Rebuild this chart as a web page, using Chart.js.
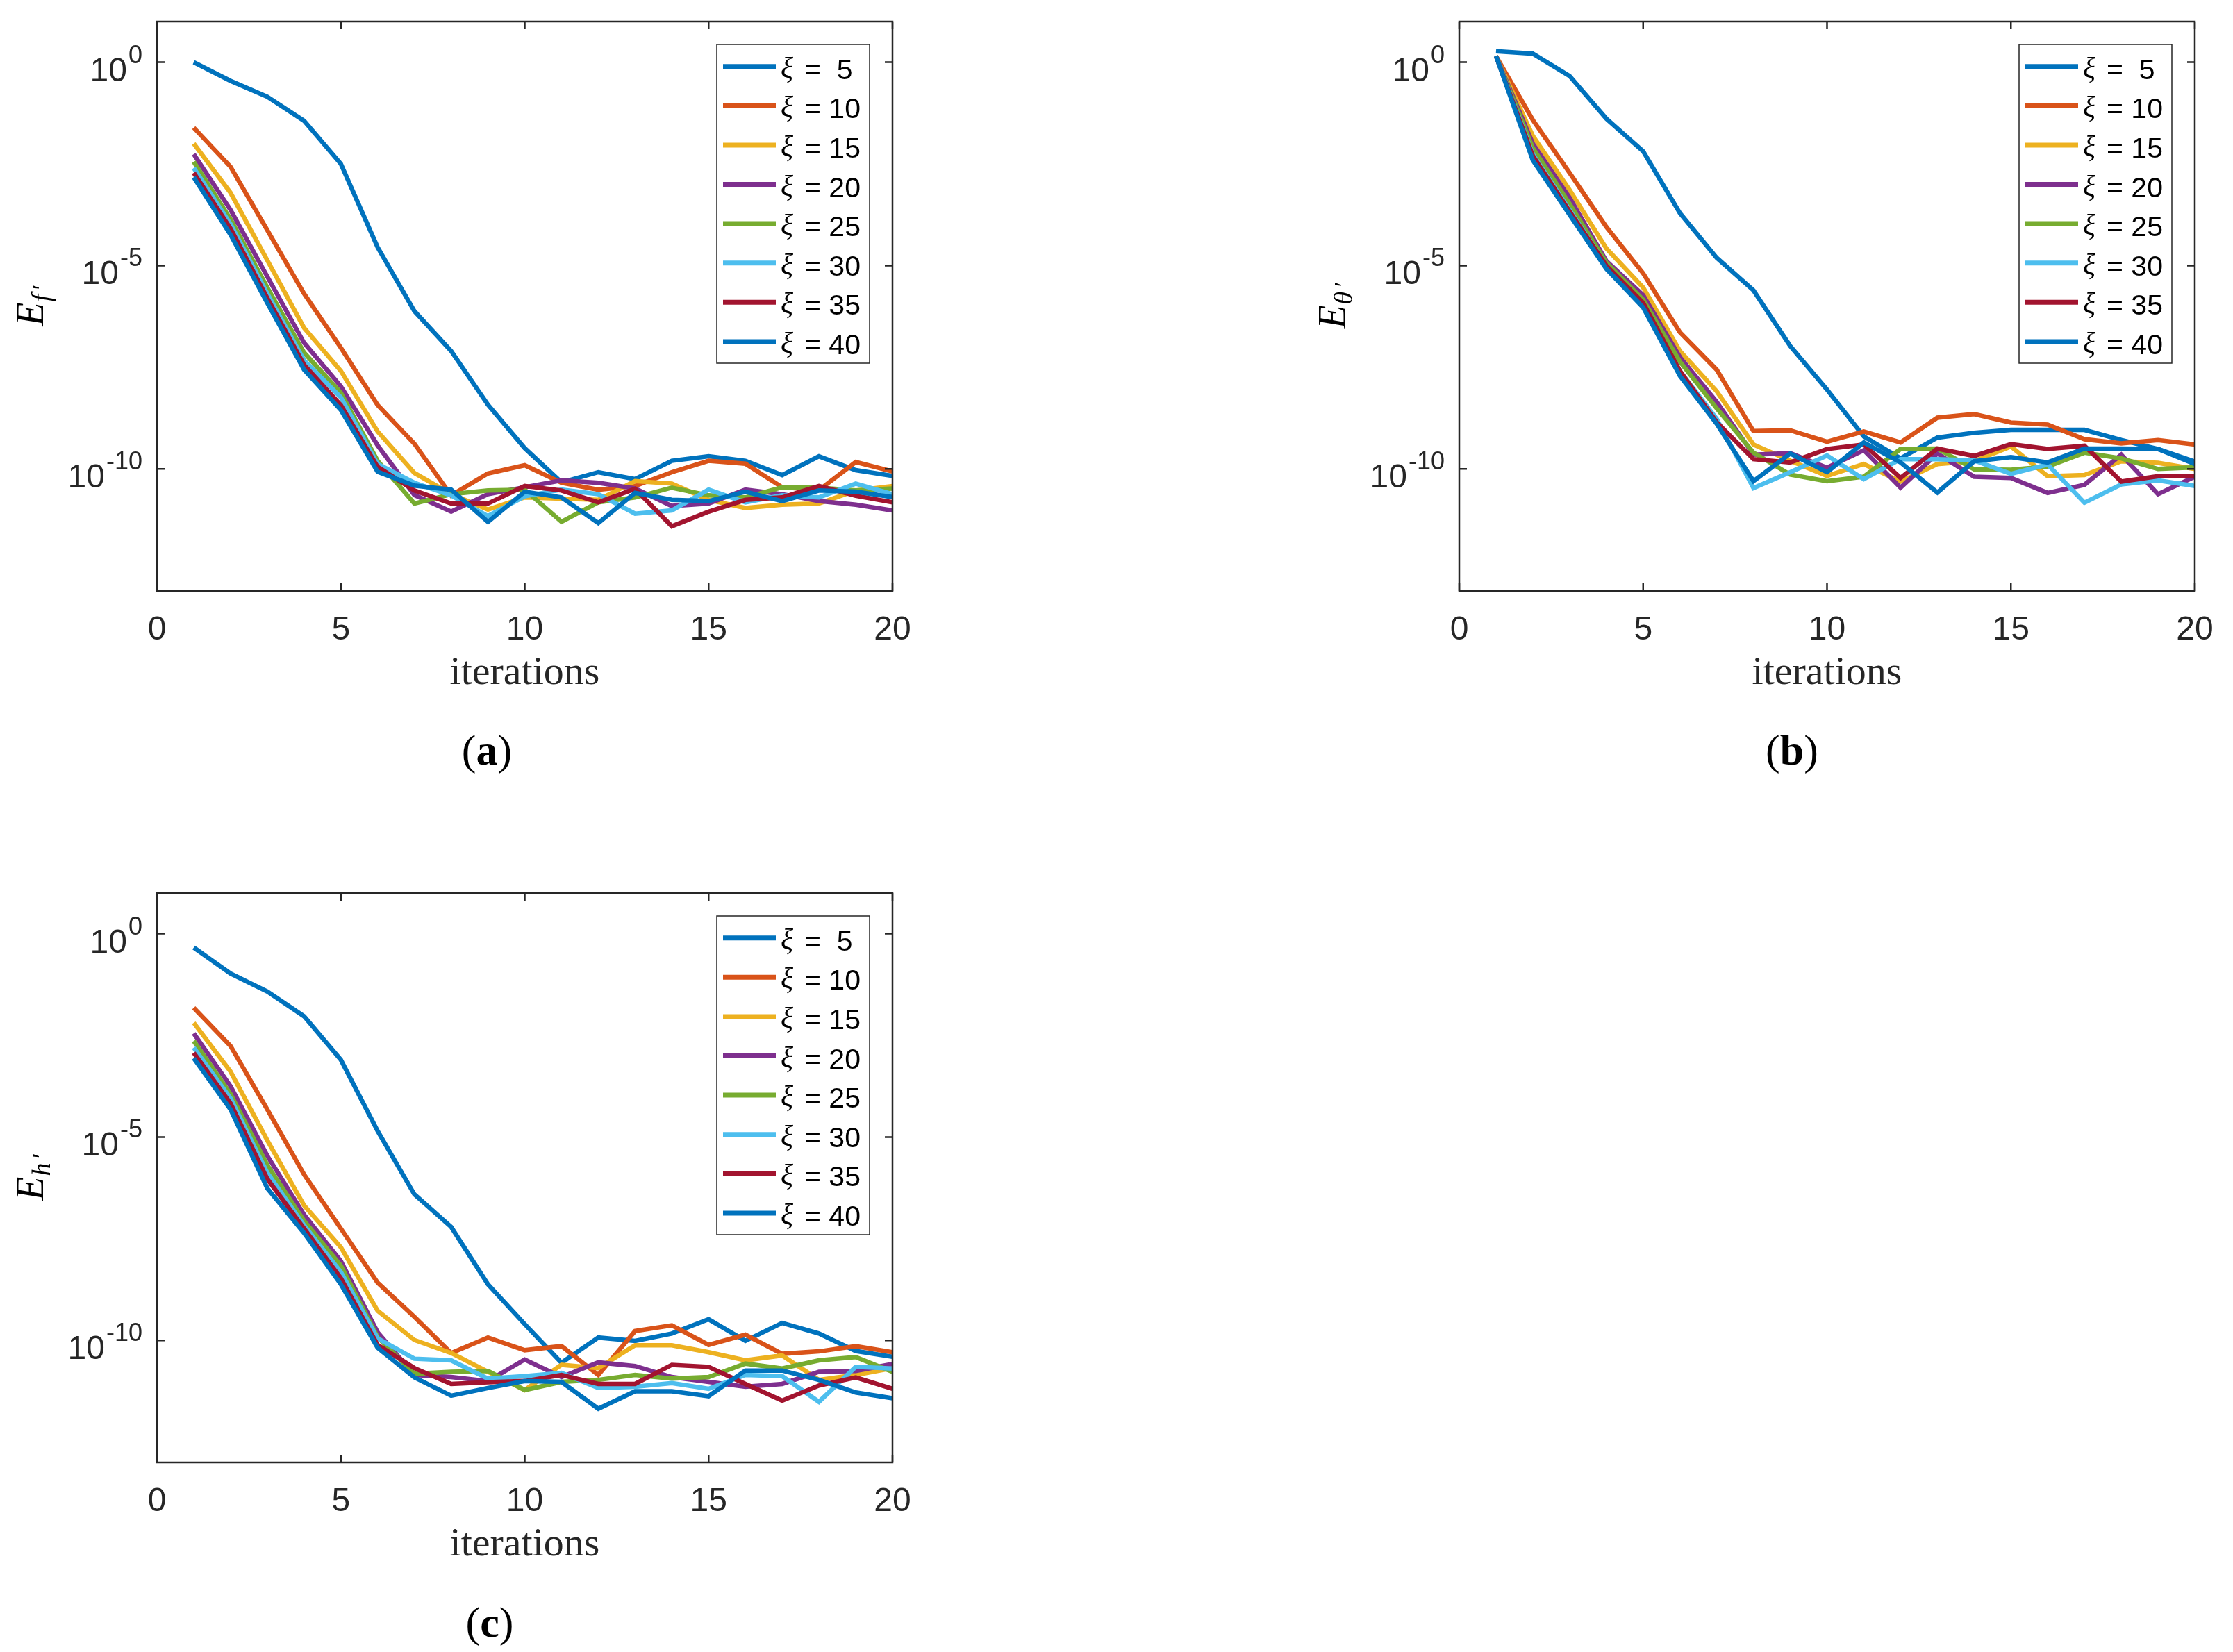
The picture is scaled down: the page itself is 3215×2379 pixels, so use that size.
<!DOCTYPE html>
<html>
<head>
<meta charset="utf-8">
<script src="https://cdn.jsdelivr.net/npm/chart.js@4.4.0/dist/chart.umd.min.js"></script>
<style>
  body { margin: 0; background: #fff; width: 3215px; height: 2379px; position: relative; overflow: hidden; }
  canvas { position: absolute; }
  .cap { position: absolute; width: 200px; text-align: center; font-family: 'Liberation Serif', 'Times New Roman', serif; font-size: 62px; line-height: 62px; color: #000; }
</style>
</head>
<body>
<canvas id="chartA" width="1340" height="1000" style="left:0px;top:0px"></canvas>
<canvas id="chartB" width="1340" height="1000" style="left:1875px;top:0px"></canvas>
<canvas id="chartC" width="1340" height="1000" style="left:0px;top:1255px"></canvas>
<div class="cap" style="left:601px;top:1049px">(<b>a</b>)</div>
<div class="cap" style="left:2480px;top:1049px">(<b>b</b>)</div>
<div class="cap" style="left:605px;top:2305px">(<b>c</b>)</div>
<script>
// iterations on the x axis
const iterations = [1, 2, 3, 4, 5, 6, 7, 8, 9, 10, 11, 12, 13, 14, 15, 16, 17, 18, 19, 20];
const xTickValues = [0, 5, 10, 15, 20];
const yTickExps = [0, -5, -10];
const legendLabels = ['ξ =  5', 'ξ = 10', 'ξ = 15', 'ξ = 20', 'ξ = 25', 'ξ = 30', 'ξ = 35', 'ξ = 40'];
const lineColors = ['#0072BD', '#D95319', '#EDB120', '#7E2F8E', '#77AC30', '#4DBEEE', '#A2142F', '#0072BD'];

// (a) E_f' : log10 of the error, per xi
const fXi5  = [0, -0.46, -0.85, -1.44, -2.5, -4.55, -6.12, -7.1, -8.42, -9.49, -10.33, -10.08, -10.25, -9.8, -9.69, -9.8, -10.15, -9.69, -10.03, -10.17];
const fXi10 = [-1.61, -2.57, -4.13, -5.69, -7.02, -8.43, -9.38, -10.65, -10.11, -9.91, -10.34, -10.51, -10.42, -10.08, -9.8, -9.87, -10.45, -10.52, -9.83, -10.06];
const fXi15 = [-2.0, -3.21, -4.87, -6.53, -7.59, -9.08, -10.1, -10.62, -11.0, -10.7, -10.73, -10.76, -10.3, -10.36, -10.76, -10.96, -10.88, -10.85, -10.53, -10.42];
const fXi20 = [-2.26, -3.63, -5.27, -6.9, -7.97, -9.42, -10.64, -11.05, -10.62, -10.45, -10.28, -10.34, -10.48, -10.91, -10.85, -10.51, -10.62, -10.79, -10.88, -11.02];
const fXi25 = [-2.45, -3.86, -5.54, -7.14, -8.13, -9.8, -10.85, -10.62, -10.53, -10.51, -11.3, -10.82, -10.7, -10.46, -10.65, -10.7, -10.45, -10.46, -10.53, -10.48];
const fXi30 = [-2.6, -3.98, -5.69, -7.33, -8.24, -9.88, -10.34, -10.65, -11.16, -10.67, -10.51, -10.62, -11.1, -11.02, -10.51, -10.82, -10.65, -10.7, -10.36, -10.62];
const fXi35 = [-2.72, -4.09, -5.8, -7.44, -8.43, -9.95, -10.53, -10.85, -10.85, -10.42, -10.53, -10.82, -10.49, -11.41, -11.05, -10.76, -10.7, -10.42, -10.66, -10.82];
const fXi40 = [-2.83, -4.24, -5.92, -7.56, -8.55, -10.07, -10.41, -10.51, -11.3, -10.56, -10.7, -11.33, -10.59, -10.76, -10.79, -10.56, -10.79, -10.53, -10.56, -10.69];

// (b) E_theta'
const tXi5  = [0.27, 0.21, -0.34, -1.39, -2.19, -3.71, -4.81, -5.61, -6.98, -8.05, -9.2, -9.74, -9.23, -9.11, -9.04, -9.04, -9.04, -9.29, -9.51, -9.82];
const tXi10 = [0.15, -1.42, -2.72, -4.05, -5.19, -6.64, -7.56, -9.07, -9.05, -9.33, -9.08, -9.35, -8.74, -8.65, -8.86, -8.91, -9.27, -9.37, -9.29, -9.4];
const tXi15 = [0.15, -1.81, -3.14, -4.58, -5.54, -7.1, -8.09, -9.4, -9.8, -10.17, -9.88, -10.31, -9.88, -9.81, -9.45, -10.18, -10.15, -9.81, -9.85, -10.0];
const tXi20 = [0.15, -2.0, -3.33, -4.89, -5.73, -7.25, -8.35, -9.65, -9.61, -9.97, -9.54, -10.46, -9.62, -10.19, -10.22, -10.59, -10.39, -9.65, -10.62, -10.19];
const tXi25 = [0.15, -2.11, -3.48, -4.93, -5.84, -7.36, -8.51, -9.6, -10.14, -10.3, -10.19, -9.51, -9.5, -10.01, -10.02, -9.94, -9.6, -9.74, -10.0, -9.96];
const tXi30 = [0.15, -2.26, -3.63, -5.0, -5.96, -7.59, -8.77, -10.47, -10.08, -9.67, -10.25, -9.76, -9.76, -9.79, -10.12, -9.89, -10.83, -10.38, -10.28, -10.42];
const tXi35 = [0.15, -2.3, -3.67, -5.0, -5.92, -7.59, -8.85, -9.76, -9.84, -9.51, -9.4, -10.22, -9.5, -9.68, -9.39, -9.51, -9.43, -10.31, -10.18, -10.17];
const tXi40 = [0.15, -2.41, -3.75, -5.08, -6.03, -7.71, -8.89, -10.3, -9.62, -10.08, -9.35, -9.84, -10.58, -9.81, -9.71, -9.84, -9.5, -9.5, -9.51, -9.88];

// (c) E_h'
const hXi5  = [-0.34, -0.98, -1.42, -2.03, -3.1, -4.85, -6.41, -7.21, -8.62, -9.6, -10.55, -9.93, -10.01, -9.83, -9.48, -10.01, -9.57, -9.83, -10.26, -10.4];
const hXi10 = [-1.82, -2.76, -4.32, -5.92, -7.25, -8.58, -9.42, -10.31, -9.93, -10.24, -10.14, -10.85, -9.77, -9.63, -10.11, -9.86, -10.33, -10.27, -10.14, -10.29];
const hXi15 = [-2.19, -3.39, -5.08, -6.68, -7.71, -9.27, -9.99, -10.31, -10.77, -11.22, -10.6, -10.68, -10.12, -10.12, -10.29, -10.49, -10.37, -10.97, -10.85, -10.68];
const hXi20 = [-2.45, -3.75, -5.46, -6.91, -8.05, -9.8, -10.85, -10.9, -11.0, -10.47, -10.9, -10.54, -10.63, -10.9, -11.02, -11.14, -11.07, -10.77, -10.75, -10.58];
const hXi25 = [-2.64, -3.94, -5.69, -7.06, -8.16, -9.92, -10.82, -10.77, -10.75, -11.22, -11.02, -10.97, -10.85, -10.94, -10.9, -10.57, -10.69, -10.49, -10.41, -10.77];
const hXi30 = [-2.8, -4.05, -5.88, -7.17, -8.32, -9.95, -10.45, -10.49, -10.94, -10.88, -10.8, -11.17, -11.14, -11.05, -11.19, -10.85, -10.88, -11.51, -10.65, -10.69];
const hXi35 = [-2.93, -4.17, -6.03, -7.25, -8.47, -10.11, -10.68, -11.07, -11.03, -11.0, -10.85, -11.07, -11.07, -10.6, -10.65, -11.07, -11.48, -11.11, -10.91, -11.19];
const hXi40 = [-3.06, -4.32, -6.26, -7.36, -8.62, -10.18, -10.91, -11.36, -11.17, -11.0, -11.02, -11.68, -11.25, -11.25, -11.37, -10.74, -10.74, -10.97, -11.28, -11.42];

const frameColor = '#262626';
const sansFont = "'Liberation Sans', Arial, sans-serif";
const serifFont = "'Liberation Serif', 'Times New Roman', serif";

// box, inward ticks, 10^n labels, axis titles and legend, MATLAB style
const matlabLook = {
    id: 'matlabLook',
    afterDraw(chart, args, opts) {
        const ctx = chart.ctx;
        const a = chart.chartArea;
        const xs = chart.scales.x;
        const ys = chart.scales.y;
        ctx.save();

        ctx.strokeStyle = frameColor;
        ctx.lineWidth = 2.5;
        ctx.strokeRect(a.left, a.top, a.right - a.left, a.bottom - a.top);
        ctx.beginPath();
        xTickValues.forEach(v => {
            const px = xs.getPixelForValue(v);
            ctx.moveTo(px, a.bottom); ctx.lineTo(px, a.bottom - 11);
            ctx.moveTo(px, a.top); ctx.lineTo(px, a.top + 11);
        });
        yTickExps.forEach(e => {
            const py = ys.getPixelForValue(Math.pow(10, e));
            ctx.moveTo(a.left, py); ctx.lineTo(a.left + 11, py);
            ctx.moveTo(a.right, py); ctx.lineTo(a.right - 11, py);
        });
        ctx.stroke();

        // y tick labels 10^e
        ctx.fillStyle = frameColor;
        ctx.textAlign = 'left';
        ctx.textBaseline = 'alphabetic';
        yTickExps.forEach(e => {
            const py = ys.getPixelForValue(Math.pow(10, e));
            const expText = String(e);
            ctx.font = '36px ' + sansFont;
            const we = ctx.measureText(expText).width;
            ctx.font = '48px ' + sansFont;
            const wb = ctx.measureText('10').width;
            const right = a.left - 21;
            ctx.fillText('10', right - we - wb - 2, py + 27);
            ctx.font = '36px ' + sansFont;
            ctx.fillText(expText, right - we, py + 1);
        });

        // y title E with subscript letter and prime, rotated
        ctx.save();
        ctx.translate(a.left - 164, (a.top + a.bottom) / 2);
        ctx.rotate(-Math.PI / 2);
        ctx.font = 'italic 56px ' + serifFont;
        const wE = ctx.measureText('E').width;
        ctx.font = 'italic 38px ' + serifFont;
        const wL = ctx.measureText(opts.sub).width;
        const wP = ctx.measureText('′').width;
        const x0 = -(wE + wL + wP + 4) / 2;
        ctx.fillStyle = '#000';
        ctx.font = 'italic 56px ' + serifFont;
        ctx.fillText('E', x0, 0);
        ctx.font = 'italic 38px ' + serifFont;
        ctx.fillText(opts.sub, x0 + wE + 1, 10);
        ctx.fillText('′', x0 + wE + wL + 5, 10);
        ctx.restore();

        // x title
        ctx.fillStyle = frameColor;
        ctx.textAlign = 'center';
        ctx.font = '58px ' + serifFont;
        ctx.fillText('iterations', (a.left + a.right) / 2, a.bottom + 134);

        // legend
        const bw = 220, bh = 459;
        const bx = a.right - 33 - bw, by = a.top + 33;
        ctx.fillStyle = '#fff';
        ctx.fillRect(bx, by, bw, bh);
        ctx.lineWidth = 1.5;
        ctx.strokeStyle = frameColor;
        ctx.strokeRect(bx, by, bw, bh);
        ctx.textAlign = 'left';
        chart.data.datasets.forEach((ds, i) => {
            const ly = by + 31.7 + i * 56.6;
            ctx.strokeStyle = ds.borderColor;
            ctx.lineWidth = 7;
            ctx.beginPath();
            ctx.moveTo(bx + 9, ly);
            ctx.lineTo(bx + 85, ly);
            ctx.stroke();
            ctx.fillStyle = '#000';
            ctx.font = 'italic 42px ' + serifFont;
            ctx.fillText(ds.label.slice(0, 1), bx + 92, ly + 16);
            ctx.font = '41px ' + sansFont;
            ctx.fillText(ds.label.slice(2), bx + 126, ly + 18);
        });
        ctx.restore();
    }
};

function makeDatasets(series) {
    return series.map((s, i) => ({
        label: legendLabels[i],
        data: s.map((e, j) => ({ x: iterations[j], y: Math.pow(10, e) })),
        borderColor: lineColors[i],
        backgroundColor: lineColors[i],
        borderWidth: 6.5,
        borderJoinStyle: 'miter',
        pointRadius: 0,
        tension: 0,
        fill: false,
        order: series.length - i
    }));
}

function buildChart(id, series, sub) {
    return new Chart(document.getElementById(id), {
        type: 'line',
        data: { datasets: makeDatasets(series) },
        plugins: [matlabLook],
        options: {
            responsive: false,
            animation: false,
            events: [],
            layout: { padding: { top: 31, right: 55, bottom: 0, left: 0 } },
            plugins: {
                legend: { display: false },
                tooltip: { enabled: false },
                matlabLook: { sub: sub }
            },
            scales: {
                x: {
                    type: 'linear',
                    min: 0,
                    max: 20,
                    afterFit: s => { s.height = 149; s.paddingLeft = 0; s.paddingRight = 0; },
                    grid: { display: false, drawTicks: false },
                    border: { display: false },
                    ticks: { stepSize: 5, padding: 28, maxRotation: 0, color: frameColor, font: { family: sansFont, size: 48 } }
                },
                y: {
                    type: 'logarithmic',
                    min: 1e-13,
                    max: 10,
                    afterFit: s => { s.width = 226; s.paddingTop = 0; s.paddingBottom = 0; },
                    grid: { display: false, drawTicks: false },
                    border: { display: false },
                    ticks: { display: false }
                }
            }
        }
    });
}

buildChart('chartA', [fXi5, fXi10, fXi15, fXi20, fXi25, fXi30, fXi35, fXi40], 'f');
buildChart('chartB', [tXi5, tXi10, tXi15, tXi20, tXi25, tXi30, tXi35, tXi40], 'θ');
buildChart('chartC', [hXi5, hXi10, hXi15, hXi20, hXi25, hXi30, hXi35, hXi40], 'h');
</script>
</body>
</html>
